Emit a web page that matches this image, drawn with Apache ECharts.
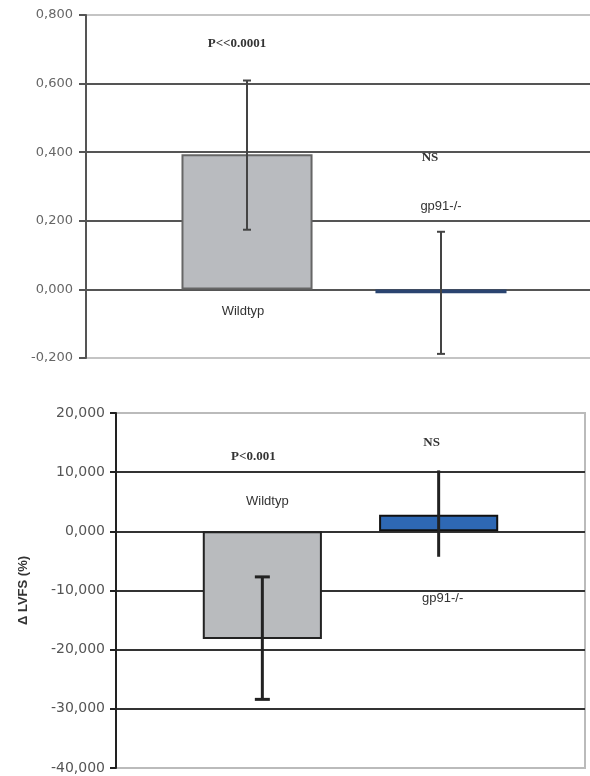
<!DOCTYPE html>
<html>
<head>
<meta charset="utf-8">
<script src="https://cdn.jsdelivr.net/npm/echarts@6/dist/echarts.min.js"></script>
<style>
  html, body { margin: 0; padding: 0; background: #fff; }
  #top { position: absolute; left: 0; top: 0; width: 590px; height: 380px; }
  #bottom { position: absolute; left: 0; top: 380px; width: 590px; height: 396px; }
</style>
</head>
<body>
<div id="top"></div>
<div id="bottom"></div>
<script>
// groups (one bar each, side by side in a single category)
const groups = ['Wildtyp', 'gp91-/-']

// upper panel
const topMean = [0.394, -0.011]
const topLow = [0.174, -0.188]
const topHigh = [0.609, 0.168]
const topAxis = [-0.2, 0.8, 0.2] // min, max, interval

// lower panel, Δ LVFS (%)
const bottomMean = [-18.2, 2.8]
const bottomLow = [-28.4, -4.3]
const bottomHigh = [-7.7, 10.3]
const bottomAxis = [-40, 20, 10]

const barPct = 0.254
const gapPct = 0.48

function fmt(v) {
  return v.toFixed(3).replace('.', ',')
}

// x pixel of bar i inside the single category band
function barX(api, i) {
  const c = api.coord([0, 0])[0]
  const band = api.size([1, 0])[0]
  const w = band * barPct
  return c + (i - 0.5) * (w * (1 + gapPct))
}

function errorSeries(low, high, style) {
  return {
    type: 'custom',
    z: 5,
    data: low.map((l, i) => [0, l, high[i], i]),
    encode: { x: 0, y: [1, 2] },
    renderItem(params, api) {
      const i = api.value(3)
      const x = barX(api, i)
      const y1 = api.coord([0, api.value(1)])[1]
      const y2 = api.coord([0, api.value(2)])[1]
      const cap = style.cap[i] / 2
      const ls = { stroke: style.color, lineWidth: style.width }
      const children = [{ type: 'line', shape: { x1: x, y1: y1, x2: x, y2: y2 }, style: ls }]
      if (cap > 0) {
        children.push({ type: 'line', shape: { x1: x - cap, y1: y1, x2: x + cap, y2: y1 }, style: ls })
        children.push({ type: 'line', shape: { x1: x - cap, y1: y2, x2: x + cap, y2: y2 }, style: ls })
      }
      return { type: 'group', children }
    }
  }
}

// text notes: [group index, y value, text, dx, kind]
function noteSeries(notes) {
  return {
    type: 'custom',
    z: 6,
    data: notes.map(n => [0, n[1]]),
    encode: { x: 0, y: 1 },
    renderItem(params, api) {
      const n = notes[params.dataIndex]
      const x = barX(api, n[0]) + n[3]
      const y = api.coord([0, n[1]])[1]
      const serif = n[4] === 'p'
      return {
        type: 'text',
        style: {
          x: x, y: y,
          text: n[2],
          align: 'center', verticalAlign: 'middle',
          fill: '#333',
          font: serif ? 'bold 13px "Liberation Serif", serif' : '13px "Liberation Sans", Arial, sans-serif'
        }
      }
    }
  }
}

function barSeries(mean, colors, borders, bw) {
  return groups.map((g, i) => ({
    name: g,
    type: 'bar',
    barWidth: (barPct * 100) + '%',
    barGap: (gapPct * 100) + '%',
    data: [mean[i]],
    itemStyle: { color: colors[i], borderColor: borders[i], borderWidth: bw }
  }))
}

const topChart = echarts.init(document.getElementById('top'))
topChart.setOption({
  animation: false,
  grid: {
    left: 86, width: 516, top: 15, bottom: 22, outerBoundsMode: 'none', containLabel: false,
    show: true, borderColor: '#c4c4c4', borderWidth: 2
  },
  xAxis: { type: 'category', data: [''], axisLine: { show: false }, axisTick: { show: false }, axisLabel: { show: false } },
  yAxis: {
    type: 'value', min: topAxis[0], max: topAxis[1], interval: topAxis[2],
    axisLine: { show: true, lineStyle: { color: '#555', width: 2 } },
    axisTick: { show: true, length: 7, lineStyle: { color: '#555', width: 2 } },
    axisLabel: { formatter: fmt, color: '#666', fontSize: 13, fontFamily: 'DejaVu Sans', margin: 13 },
    splitLine: { lineStyle: { color: ['#c4c4c4', '#555', '#555', '#555', '#555', '#c4c4c4'], width: 2 } }
  },
  series: [
    ...barSeries(topMean, ['#b9bbbf', '#2d4d80'], ['#666', '#2a4470'], 2),
    errorSeries(topLow, topHigh, { color: '#444', width: 2, cap: [8, 8] }),
    noteSeries([
      [0, 0.716, 'P<<0.0001', -10, 'p'],
      [0, -0.064, 'Wildtyp', -4, 's'],
      [1, 0.383, 'NS', -11, 'p'],
      [1, 0.241, 'gp91-/-', 0, 's']
    ])
  ]
})

const bottomChart = echarts.init(document.getElementById('bottom'))
bottomChart.setOption({
  animation: false,
  grid: { left: 116, right: 5, top: 33, bottom: 8, show: true, borderColor: '#bbb', borderWidth: 2 },
  xAxis: { type: 'category', data: [''], axisLine: { show: false }, axisTick: { show: false }, axisLabel: { show: false } },
  yAxis: {
    type: 'value', min: bottomAxis[0], max: bottomAxis[1], interval: bottomAxis[2],
    name: 'Δ LVFS (%)', nameLocation: 'middle', nameGap: 86,
    nameTextStyle: { color: '#333', fontSize: 13, fontWeight: 'bold', fontFamily: 'Liberation Sans' },
    axisLine: { show: true, lineStyle: { color: '#222', width: 2 } },
    axisTick: { show: true, length: 6, lineStyle: { color: '#222', width: 2 } },
    axisLabel: { formatter: fmt, color: '#555', fontSize: 14, fontFamily: 'DejaVu Sans', margin: 11 },
    splitLine: { lineStyle: { color: ['#bbb', '#333', '#333', '#333', '#333', '#333', '#bbb'], width: 2 } }
  },
  series: [
    ...barSeries(bottomMean, ['#b9bbbe', '#2e68b4'], ['#222', '#111'], 2),
    errorSeries(bottomLow, bottomHigh, { color: '#222', width: 3, cap: [15, 0] }),
    noteSeries([
      [0, 12.6, 'P<0.001', -9, 'p'],
      [0, 5.1, 'Wildtyp', 5, 's'],
      [1, 15, 'NS', -7, 'p'],
      [1, -11.4, 'gp91-/-', 4, 's']
    ])
  ]
})
</script>
</body>
</html>
